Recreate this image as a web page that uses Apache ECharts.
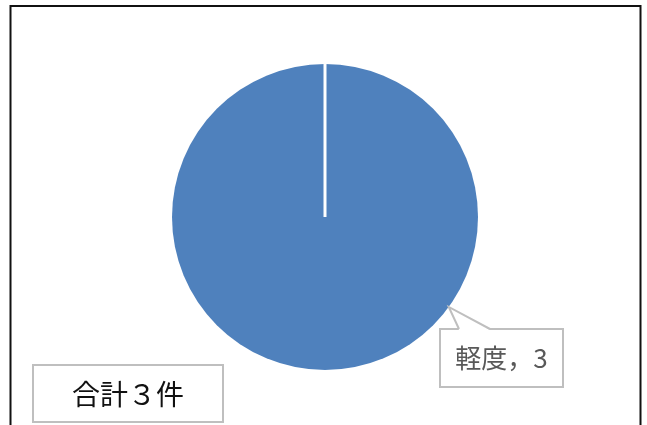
<!DOCTYPE html>
<html>
<head>
<meta charset="utf-8">
<script src="https://cdn.jsdelivr.net/npm/echarts@6/dist/echarts.min.js"></script>
<style>html,body{margin:0;padding:0;background:#fff}#c{width:647px;height:425px}</style>
</head>
<body>
<div id="c"></div>
<script>
const categories = ['軽度'];
const values = [3];
const colors = ['#4f81bd'];

const CX = 325, CY = 217, R = 153;
const FONT = '"Noto Sans CJK JP", "Noto Sans", sans-serif';
const total = values.reduce((a, b) => a + b, 0);
const fullWidth = s => String(s).replace(/[0-9]/g, d => String.fromCharCode(0xFF10 + +d));

// label callout anchor angle (degrees clockwise from top)
const anchorDeg = 126;
const ax = CX + R * Math.sin(anchorDeg * Math.PI / 180);
const ay = CY - R * Math.cos(anchorDeg * Math.PI / 180);
const boxL = 440, boxT = 329, boxW = 123, boxH = 58;

const chart = echarts.init(document.getElementById('c'));
chart.setOption({
  animation: false,
  backgroundColor: '#fff',
  series: [{
    type: 'pie',
    center: [CX, CY],
    radius: [0, R],
    startAngle: 90,
    avoidLabelOverlap: false,
    data: categories.map((n, i) => ({ name: n, value: values[i], itemStyle: { color: colors[i] } })),
    label: {
      show: true,
      position: 'outside',
      formatter: p => p.name + '，' + p.value,
      fontFamily: FONT,
      fontSize: 26,
      color: '#595959',
      backgroundColor: '#fff',
      borderColor: '#bfbfbf',
      borderWidth: 2,
      width: boxW - 2,
      height: boxH - 2,
      lineHeight: boxH - 2,
      align: 'center',
      verticalAlign: 'middle',
      padding: 0
    },
    labelLine: { show: false },
    labelLayout: () => ({ x: boxL + boxW / 2, y: boxT + boxH / 2, align: 'center', verticalAlign: 'middle' }),
    emphasis: { disabled: true }
  }],
  graphic: [
    { type: 'rect', z: 0, shape: { x: 10.5, y: 6, width: 630, height: 440 }, style: { fill: 'none', stroke: '#111', lineWidth: 2 } },
    { type: 'line', z: 100, shape: { x1: CX, y1: CY, x2: CX, y2: CY - R - 2 }, style: { stroke: '#fff', lineWidth: 3 } },
    { type: 'polygon', z: 100, shape: { points: [[459, boxT + 1], [ax, ay], [490, boxT + 1]] }, style: { fill: '#fff', stroke: 'none' } },
    { type: 'polyline', z: 101, shape: { points: [[459, boxT], [ax, ay], [490, boxT]] }, style: { stroke: '#bfbfbf', lineWidth: 2, fill: 'none' } },
    { type: 'rect', z: 100, shape: { x: 33, y: 365, width: 190, height: 57 }, style: { fill: '#fff', stroke: '#bfbfbf', lineWidth: 2 } },
    { type: 'text', z: 101, x: 128, y: 394, style: { text: '合計' + fullWidth(total) + '件', fontFamily: FONT, fontSize: 28, fill: '#111', align: 'center', verticalAlign: 'middle' } }
  ]
});
</script>
</body>
</html>
